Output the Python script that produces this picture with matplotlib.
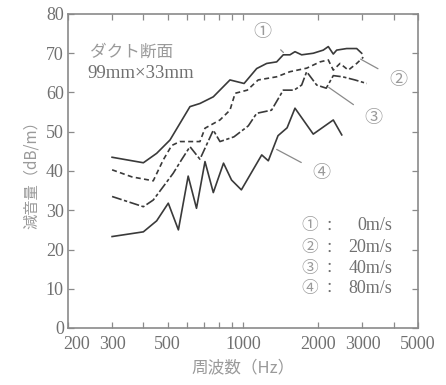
import matplotlib
matplotlib.use("Agg")
import matplotlib.pyplot as plt
from matplotlib.ticker import FixedLocator, NullFormatter, FixedFormatter

# ---- data ----
f1 = [300, 400, 452, 511, 614, 673, 761, 887, 1010, 1134, 1243, 1363, 1448, 1540,
      1613, 1715, 1908, 2092, 2191, 2294, 2367, 2595, 2845, 2979]
v1 = [43.5, 42.1, 44.5, 47.9, 56.4, 57.2, 58.9, 63.2, 62.3, 66.1, 67.4, 67.8, 69.6, 69.6,
      70.4, 69.6, 70.0, 70.8, 71.7, 69.8, 70.8, 71.2, 71.2, 70.0]

f2 = [300, 360, 438, 480, 519, 560, 614, 673, 705, 809, 887, 930, 1040, 1150, 1363,
      1540, 1796, 2030, 2191, 2294, 2440, 2634, 2845, 3023]
v2 = [40.3, 38.5, 37.5, 42.8, 46.5, 47.5, 47.5, 47.5, 50.9, 53.0, 55.5, 59.8, 60.6,
      63.2, 64.0, 65.3, 66.2, 67.8, 68.3, 65.7, 67.4, 65.7, 67.4, 69.0]

f3 = [300, 400, 438, 480, 526, 570, 614, 673, 761, 809, 920, 1050, 1134, 1300, 1448,
      1600, 1715, 1796, 1969, 2150, 2294, 2500, 2800, 3119]
v3 = [33.5, 30.9, 32.6, 36.0, 39.4, 43.0, 46.2, 43.0, 50.4, 47.5, 48.7, 51.5, 54.7,
      55.5, 60.6, 60.6, 61.9, 65.3, 61.9, 61.1, 64.3, 64.0, 63.2, 62.3]

f4 = [300, 400, 452, 503, 552, 604, 652, 705, 761, 836, 900, 985, 1188, 1262, 1380,
      1500, 1613, 1908, 2294, 2480]
v4 = [23.3, 24.5, 27.3, 31.8, 25.0, 38.7, 30.5, 42.4, 34.5, 42.0, 37.7, 35.2, 44.1,
      42.6, 49.0, 51.0, 56.0, 49.4, 53.0, 49.2]

xticks_major = [200, 300, 500, 1000, 2000, 3000, 5000]
xtick_labels = ["200", "300", "500", "1000", "2000", "3000", "5000"]
xticks_minor = [400, 600, 700, 800, 900, 4000]
yticks = [0, 10, 20, 30, 40, 50, 60, 70, 80]

legend_marks = ["①", "②", "③", "④"]
legend_vals = ["0m/s", "20m/s", "40m/s", "80m/s"]

# ---- styling ----
LINE = "#3a3a3a"
TXT = "#707070"
LIGHT = "#9a9a9a"
SERIF = ["Liberation Serif", "Noto Sans CJK JP"]
JP = ["Noto Sans CJK JP", "DejaVu Sans"]

fig = plt.figure(figsize=(4.46, 3.85), dpi=100)
ax = fig.add_axes([68 / 446, 1 - 328 / 385, 350 / 446, 314 / 385])

ax.plot(f1, v1, color=LINE, lw=1.2, ls="-")
ax.plot(f2, v2, color=LINE, lw=1.2, ls=(0, (3, 2)))
ax.plot(f3, v3, color=LINE, lw=1.2, ls=(0, (6, 1.5, 2, 1.5)))
ax.plot(f4, v4, color=LINE, lw=1.2, ls="-")

ax.set_xscale("log")
ax.set_xlim(200, 5000)
ax.set_ylim(0, 80)

# first label (200) is drawn separately, shifted right as in the reference
ax.xaxis.set_major_locator(FixedLocator(xticks_major))
ax.xaxis.set_major_formatter(FixedFormatter([""] + xtick_labels[1:]))
ax.xaxis.set_minor_locator(FixedLocator(xticks_minor))
ax.xaxis.set_minor_formatter(NullFormatter())
ax.set_yticks(yticks)

for s in ax.spines.values():
    s.set_color("#8a8a8a")
    s.set_linewidth(1.2)

ax.tick_params(axis="both", which="both", direction="in", top=True, right=True,
               colors="#8a8a8a", labelcolor=TXT, length=4, width=0.9)
ax.tick_params(axis="x", pad=6)
ax.tick_params(axis="y", pad=3)
for lab in ax.get_xticklabels() + ax.get_yticklabels():
    lab.set_family(SERIF)
    lab.set_fontsize(13)

ax.annotate(xtick_labels[0], xy=(xticks_major[0], 0), xycoords=("data", "axes fraction"),
            xytext=(6, -6), textcoords="offset points", ha="center", va="top",
            family=SERIF, fontsize=13, color=TXT)

ax.set_xlabel("周波数（Hz）", family=JP, fontsize=12, color=LIGHT, labelpad=4)
ax.set_ylabel("減音量（dB/m）", family=JP, fontsize=11, color=LIGHT, labelpad=4)

ax.text(0.063, 0.879, "ダクト断面", transform=ax.transAxes, family=JP,
        fontsize=12, color=LIGHT, va="center", ha="left")
ax.text(0.054, 0.812, "99mm×33mm", transform=ax.transAxes, family=SERIF,
        fontsize=13.5, color=TXT, va="center", ha="left")

rows_y = [0.325, 0.255, 0.191, 0.127]
for m, val, yy in zip(legend_marks, legend_vals, rows_y):
    ax.text(0.691, yy, m, transform=ax.transAxes, family=JP, fontsize=12,
            color=LIGHT, ha="center", va="center")
    ax.text(0.745, yy, "：", transform=ax.transAxes, family=JP, fontsize=11,
            color=TXT, ha="center", va="center")
    ax.text(0.926, yy, val, transform=ax.transAxes, family=SERIF, fontsize=13,
            color=TXT, ha="right", va="center")

callouts = [("①", (1190, 75.5), (1450, 70.2)),
            ("②", (4170, 63.2), (2950, 68.5)),
            ("③", (3312, 53.4), (2200, 61.3)),
            ("④", (2061, 39.4), (1363, 45.5))]
for m, pos, tgt in callouts:
    ax.annotate(m, xy=tgt, xytext=pos, family=JP, fontsize=13, color=LIGHT,
                ha="center", va="center",
                arrowprops=dict(arrowstyle="-", color="#8a8a8a", lw=0.9,
                                shrinkA=7, shrinkB=0))

fig.savefig("out.png", dpi=100)
